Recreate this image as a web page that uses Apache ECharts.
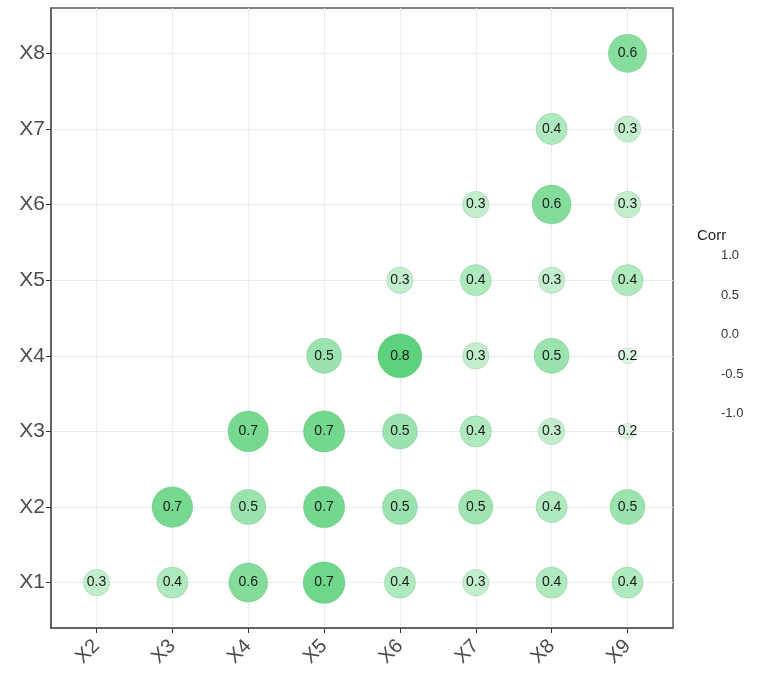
<!DOCTYPE html>
<html>
<head>
<meta charset="utf-8">
<script src="https://cdn.jsdelivr.net/npm/echarts@6/dist/echarts.min.js"></script>
<style>html,body{margin:0;padding:0;background:#fff;}#c{width:783px;height:677px;}</style>
</head>
<body>
<div id="c"></div>
<script>
// Column (x) and row (y) variable names
const xVars = ['X2', 'X3', 'X4', 'X5', 'X6', 'X7', 'X8', 'X9'];
const yVars = ['X1', 'X2', 'X3', 'X4', 'X5', 'X6', 'X7', 'X8'];
// Correlations per row (values for columns starting at the row's first partner)
const rowX1 = [0.30, 0.40, 0.62, 0.72, 0.40, 0.30, 0.40, 0.40]; // X2..X9
const rowX2 = [0.68, 0.50, 0.70, 0.50, 0.48, 0.40, 0.50];       // X3..X9
const rowX3 = [0.68, 0.70, 0.50, 0.40, 0.30, 0.18];             // X4..X9
const rowX4 = [0.50, 0.80, 0.30, 0.50, 0.18];                   // X5..X9
const rowX5 = [0.30, 0.40, 0.30, 0.40];                         // X6..X9
const rowX6 = [0.30, 0.62, 0.30];                               // X7..X9
const rowX7 = [0.40, 0.30];                                     // X8..X9
const rowX8 = [0.60];                                           // X9
const legendTitle = 'Corr';
const legendLabels = ['1.0', '0.5', '0.0', '-0.5', '-1.0'];

const rows = [rowX1, rowX2, rowX3, rowX4, rowX5, rowX6, rowX7, rowX8];
const data = [];
rows.forEach((vals, r) => {
  vals.forEach((v, k) => {
    const c = r + k; // column index in xVars
    data.push([c + 1, r + 1, v]);
  });
});

const vmin = 0.17, vmax = 0.8;
function sizeOf(v) {
  const a = Math.abs(v);
  const t = Math.max(0, Math.min(1, (a - vmin) / (vmax - vmin)));
  return 12 + 32 * Math.sqrt(t);
}

const ticks = [1, 2, 3, 4, 5, 6, 7, 8];
const chart = echarts.init(document.getElementById('c'));
const graphics = [{
  type: 'text', left: 697, top: 228,
  style: { text: legendTitle, fontSize: 15, fill: '#222', fontFamily: 'Liberation Sans, Arial, sans-serif' }
}];
legendLabels.forEach((t, i) => {
  graphics.push({
    type: 'text', left: 721, top: 249 + i * 39.5,
    style: { text: t, fontSize: 13, fill: '#333', fontFamily: 'Liberation Sans, Arial, sans-serif' }
  });
});

chart.setOption({
  animation: false,
  backgroundColor: '#fff',
  grid: {
    left: 51, right: 110, top: 8, bottom: 49,
    show: true, borderColor: '#595959', borderWidth: 1.5, backgroundColor: 'transparent'
  },
  xAxis: {
    type: 'value', min: 0.4, max: 8.6,
    axisLine: { show: true, lineStyle: { color: '#595959', width: 1.5 } },
    axisTick: { show: true, customValues: ticks, length: 5, lineStyle: { color: '#333' } },
    axisLabel: {
      customValues: ticks, rotate: 45, margin: 15, fontSize: 20, color: '#4d4d4d',
      fontFamily: 'Liberation Sans, Arial, sans-serif',
      formatter: v => xVars[Math.round(v) - 1] || ''
    },
    splitLine: { show: true, lineStyle: { color: '#ebebeb', width: 1 } }
  },
  yAxis: {
    type: 'value', min: 0.4, max: 8.6,
    axisLine: { show: true, lineStyle: { color: '#595959', width: 1.5 } },
    axisTick: { show: true, customValues: ticks, length: 5, lineStyle: { color: '#333' } },
    axisLabel: {
      customValues: ticks, margin: 6, fontSize: 21, color: '#4d4d4d',
      fontFamily: 'Liberation Sans, Arial, sans-serif',
      formatter: v => yVars[Math.round(v) - 1] || ''
    },
    splitLine: { show: true, lineStyle: { color: '#ebebeb', width: 1 } }
  },
  visualMap: {
    show: false, type: 'continuous', min: -1, max: 1, dimension: 2,
    inRange: { color: ['#3b6fd6', '#ffffff', '#37c75c'] }
  },
  graphic: graphics,
  series: [{
    type: 'scatter',
    data: data,
    symbol: 'circle',
    symbolSize: d => sizeOf(d[2]),
    itemStyle: { borderColor: 'rgba(0,90,20,0.12)', borderWidth: 1, opacity: 1 },
    label: {
      show: true, position: 'inside', fontSize: 14, color: '#1a1a1a',
      fontFamily: 'Liberation Sans, Arial, sans-serif',
      formatter: p => p.value[2].toFixed(1)
    }
  }]
});
</script>
</body>
</html>
